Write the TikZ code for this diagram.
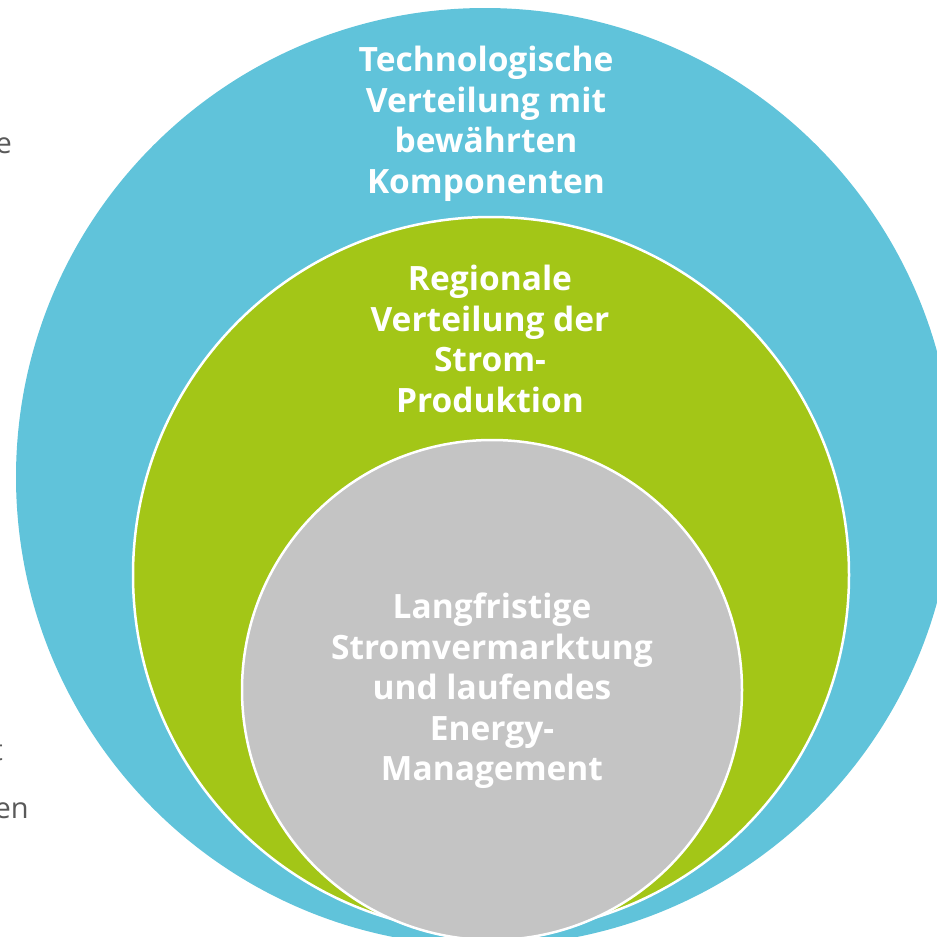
\documentclass[tikz,border=0pt]{standalone}
\usepackage{fontspec}
\setmainfont{Open Sans}
\definecolor{cblue}{HTML}{60C3DA}
\definecolor{cgreen}{HTML}{A3C617}
\definecolor{cgray}{HTML}{C4C4C4}
\definecolor{ctext}{HTML}{595959}
\begin{document}
\begin{tikzpicture}[x=1pt,y=-1pt,
  ring/.style={draw=white,line width=2.5pt},
  lbl/.style={text=white,align=center,font=\fontsize{33.5}{40.5}\selectfont\bfseries,inner sep=0pt},
  side/.style={text=ctext,font=\fontsize{29}{40}\selectfont,inner sep=0pt}]
\useasboundingbox (0,0) rectangle (937,937);
\clip (0,0) rectangle (937,937);
\node[side,anchor=base east] (s1) at (12,153) {e};
\node[side,anchor=base east] (s2) at (3,760) {t};
\node[side,anchor=base east] (s3) at (29,818) {en};
\fill[cblue] (485,477) circle (469);
\fill[cgreen,ring] (491,575) circle (358);
\fill[cgray,ring] (492,690) circle (250);
\node[lbl] (t1) at (486,124) {Technologische\\Verteilung mit\\bewährten\\Komponenten};
\node[lbl] (t2) at (490,339) {Regionale\\Verteilung der\\Strom-\\Produktion};
\node[lbl] (t3) at (492,691) {Langfristige\\Stromvermarktung\\und laufendes\\Energy-\\Management};
\end{tikzpicture}
\end{document}
